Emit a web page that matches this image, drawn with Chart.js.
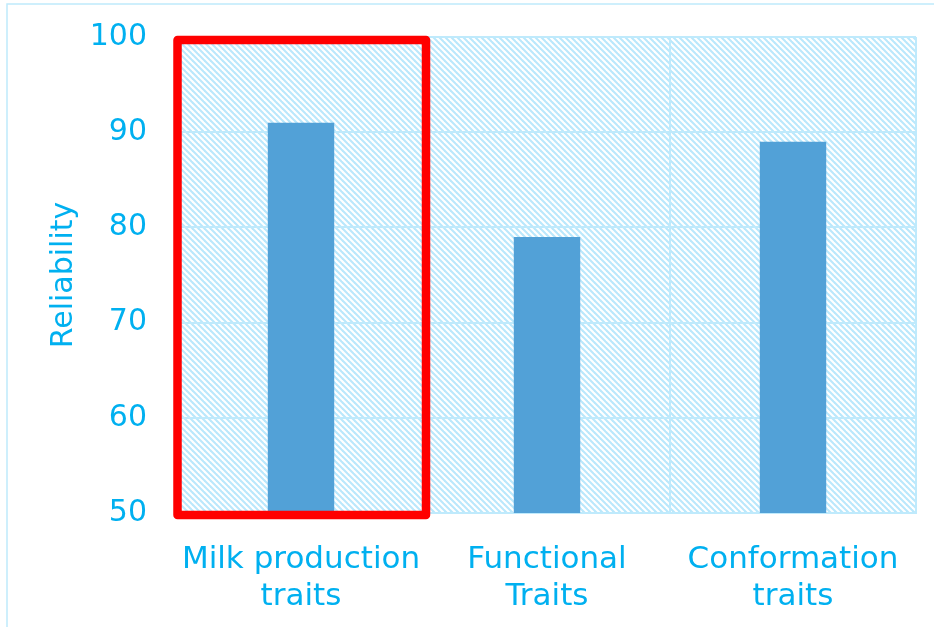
<!DOCTYPE html>
<html>
<head>
<meta charset="utf-8">
<script src="https://cdn.jsdelivr.net/npm/chart.js@4/dist/chart.umd.min.js"></script>
<style>
  html, body { margin: 0; padding: 0; background: #ffffff; }
  #wrap { width: 934px; height: 627px; position: relative; }
</style>
</head>
<body>
<div id="wrap"><canvas id="c" width="934" height="627"></canvas></div>
<script>
// Reliability per trait group
const categories = [["Milk production", "traits"], ["Functional", "Traits"], ["Conformation", "traits"]];
const reliability = [91, 79, 89];
const yTicks = [50, 60, 70, 80, 90, 100];
const highlighted = 0; // index of the trait group framed in red

const TEXT = '#00b0f0';
const GRID = '#bfeafc';
const BAR = '#52a1d7';

// Diagonal hatch used as the plot background
function hatchPattern(ctx) {
  const p = 6;
  const tile = document.createElement('canvas');
  tile.width = p; tile.height = p;
  const t = tile.getContext('2d');
  t.strokeStyle = '#bae8fc';
  t.lineWidth = 2.1;
  for (const k of [-1, 0, 1]) {
    t.beginPath();
    t.moveTo(-1, -1 + k * p);
    t.lineTo(p + 1, p + 1 + k * p);
    t.stroke();
  }
  return ctx.createPattern(tile, 'repeat');
}

const decor = {
  id: 'decor',
  beforeDraw(chart) {
    const { ctx, chartArea: a } = chart;
    ctx.save();
    // outer frame
    ctx.strokeStyle = GRID;
    ctx.lineWidth = 1.5;
    ctx.strokeRect(7, 4, 960, 660);
    // hatched plot area
    ctx.fillStyle = hatchPattern(ctx);
    ctx.fillRect(a.left, a.top, a.right - a.left, a.bottom - a.top);
    ctx.restore();
  },
  afterDraw(chart) {
    const { ctx, chartArea: a } = chart;
    const x = chart.scales.x;
    const half = (a.right - a.left) / categories.length / 2;
    const cx = x.getPixelForValue(highlighted);
    ctx.save();
    ctx.strokeStyle = '#ff0000';
    ctx.lineWidth = 8.5;
    ctx.lineJoin = 'round';
    ctx.strokeRect(cx - half - 0.5, a.top + 3, 2 * half + 2.5, a.bottom - a.top - 1);
    ctx.restore();
  }
};

new Chart(document.getElementById('c'), {
  type: 'bar',
  data: {
    labels: categories,
    datasets: [{
      data: reliability,
      backgroundColor: BAR,
      borderWidth: 0,
      categoryPercentage: 1,
      barPercentage: 0.27
    }]
  },
  options: {
    responsive: false,
    animation: false,
    layout: { padding: { top: 37, right: 18, left: 0, bottom: 0 } },
    plugins: { legend: { display: false }, tooltip: { enabled: false } },
    scales: {
      x: {
        offset: true,
        grid: { color: GRID, lineWidth: 2, offset: true, drawTicks: false },
        border: { color: GRID, width: 2 },
        ticks: {
          color: TEXT,
          padding: 28,
          maxRotation: 0,
          font: { family: 'DejaVu Sans', size: 31, lineHeight: 1.2 }
        },
        afterFit(s) { s.height = 114; }
      },
      y: {
        min: 50,
        max: 100,
        afterBuildTicks(s) { s.ticks = yTicks.map(v => ({ value: v })); },
        grid: { color: GRID, lineWidth: 2, drawTicks: false },
        border: { color: GRID, width: 2 },
        ticks: {
          color: TEXT,
          padding: 31,
          font: { family: 'DejaVu Sans', size: 30 }
        },
        title: {
          display: true,
          text: 'Reliability',
          color: TEXT,
          padding: { top: 46, bottom: 0 },
          font: { family: 'DejaVu Sans', size: 30 }
        },
        afterFit(s) { s.width = 178; s.paddingTop = 0; s.paddingBottom = 0; }
      }
    }
  },
  plugins: [decor]
});
</script>
</body>
</html>
